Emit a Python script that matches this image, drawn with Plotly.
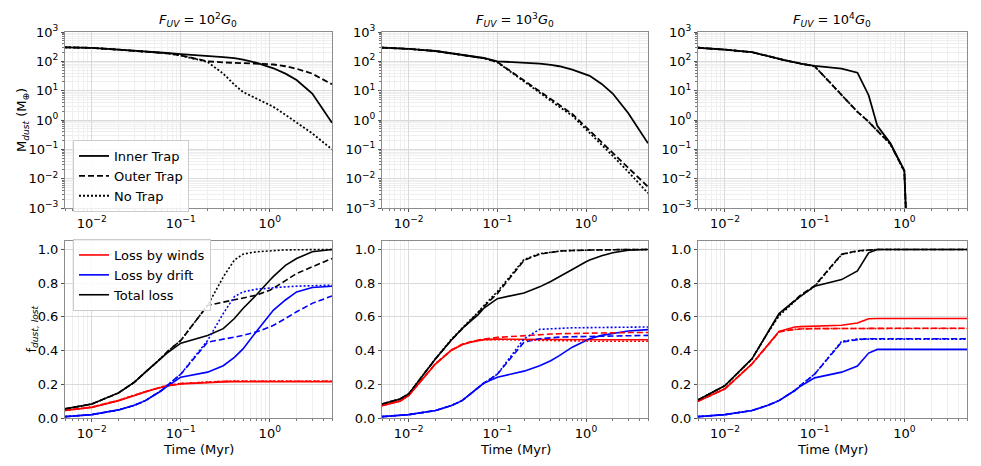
import numpy as np
import plotly.graph_objects as go

# time grid of the model outputs (Myr)
t_myr = [0.005, 0.008, 0.01, 0.02, 0.03, 0.04, 0.05, 0.06, 0.07, 0.1,
         0.2, 0.3, 0.4, 0.5, 0.7, 1.0, 1.1, 1.5, 2, 3, 5]

panel_titles = ["<i>F</i><sub><i>UV</i></sub> = 10<sup>2</sup><i>G</i><sub>0</sub>",
                "<i>F</i><sub><i>UV</i></sub> = 10<sup>3</sup><i>G</i><sub>0</sub>",
                "<i>F</i><sub><i>UV</i></sub> = 10<sup>4</sup><i>G</i><sub>0</sub>"]
trap_names = ["Inner Trap", "Outer Trap", "No Trap"]
loss_names = ["Loss by winds", "Loss by drift", "Total loss"]

x_tickvals = [0.01, 0.1, 1]
x_ticktext = ["10<sup>\u22122</sup>", "10<sup>\u22121</sup>", "10<sup>0</sup>"]
m_tickvals = [1e-3, 1e-2, 1e-1, 1, 10, 100, 1000]
m_ticktext = ["10<sup>\u22123</sup>", "10<sup>\u22122</sup>", "10<sup>\u22121</sup>",
              "10<sup>0</sup>", "10<sup>1</sup>", "10<sup>2</sup>", "10<sup>3</sup>"]
f_tickvals = [0.0, 0.2, 0.4, 0.6, 0.8, 1.0]

# ---- dust mass (M_earth) ----
mass_inner_g2 = [300, 292, 288, 250, 232, 220, 210, 200, 192, 175, 155, 140, 128, 115, 90, 65, 58, 38, 23, 8, 0.8]
mass_outer_g2 = [300, 292, 288, 250, 232, 220, 208, 198, 188, 160, 100, 92, 90, 88, 84, 80, 78, 68, 56, 38, 16.5]
mass_none_g2 = [300, 292, 288, 250, 232, 220, 208, 198, 188, 158, 95, 38, 16, 9, 5.5, 3.3, 2.8, 1.5, 0.8, 0.35, 0.1]

mass_inner_g3 = [295, 280, 265, 225, 190, 170, 155, 140, 130, 100, 90, 84, 76, 68, 52, 36, 32, 17, 8, 1.7, 0.16]
mass_outer_g3 = [295, 280, 265, 225, 190, 170, 155, 140, 128, 95, 22, 9.5, 5.2, 3.2, 1.6, 0.57, 0.43, 0.18, 0.077, 0.023, 0.0053]
mass_none_g3 = [295, 280, 265, 225, 190, 170, 155, 140, 128, 93, 20, 8.5, 4.6, 2.8, 1.4, 0.48, 0.36, 0.15, 0.06, 0.017, 0.0032]

mass_inner_g4 = [290, 265, 250, 205, 148, 117, 103, 93, 83, 70, 56, 41, 7, 0.63, 0.16, 0.019, 1e-5, None, None, None, None]
mass_outer_g4 = [290, 265, 250, 205, 148, 117, 103, 93, 83, 68, 7, 1.9, 0.87, 0.44, 0.15, 0.018, 1e-5, None, None, None, None]
mass_none_g4 = [290, 265, 250, 205, 148, 117, 103, 93, 83, 68, 7, 1.9, 0.87, 0.44, 0.15, 0.018, 1e-5, None, None, None, None]

# ---- fraction of dust lost, G0 = 1e2 ----
wind_inner_g2 = [0.044, 0.056, 0.063, 0.103, 0.135, 0.155, 0.17, 0.182, 0.19, 0.202, 0.212, 0.214, 0.215, 0.215, 0.215, 0.215, 0.215, 0.215, 0.215, 0.215, 0.215]
wind_outer_g2 = [0.045, 0.057, 0.064, 0.104, 0.136, 0.156, 0.171, 0.183, 0.192, 0.204, 0.215, 0.217, 0.218, 0.218, 0.218, 0.218, 0.218, 0.218, 0.218, 0.218, 0.218]
wind_none_g2 = [0.046, 0.058, 0.065, 0.105, 0.137, 0.157, 0.172, 0.184, 0.193, 0.205, 0.216, 0.218, 0.219, 0.219, 0.219, 0.219, 0.219, 0.219, 0.219, 0.219, 0.219]
drift_inner_g2 = [0.008, 0.014, 0.02, 0.048, 0.075, 0.103, 0.133, 0.16, 0.187, 0.242, 0.272, 0.31, 0.36, 0.41, 0.51, 0.61, 0.64, 0.70, 0.748, 0.774, 0.782]
drift_outer_g2 = [0.008, 0.014, 0.02, 0.048, 0.075, 0.103, 0.133, 0.162, 0.192, 0.26, 0.45, 0.47, 0.48, 0.49, 0.51, 0.54, 0.55, 0.59, 0.63, 0.68, 0.724]
drift_none_g2 = [0.008, 0.014, 0.02, 0.048, 0.075, 0.103, 0.133, 0.162, 0.192, 0.26, 0.46, 0.62, 0.72, 0.748, 0.764, 0.772, 0.774, 0.778, 0.782, 0.785, 0.788]
total_inner_g2 = [0.054, 0.072, 0.083, 0.149, 0.212, 0.272, 0.317, 0.352, 0.385, 0.444, 0.49, 0.53, 0.59, 0.65, 0.728, 0.817, 0.84, 0.905, 0.946, 0.986, 1.0]
total_outer_g2 = [0.054, 0.072, 0.083, 0.149, 0.212, 0.272, 0.317, 0.355, 0.392, 0.46, 0.668, 0.688, 0.70, 0.712, 0.728, 0.758, 0.77, 0.815, 0.857, 0.897, 0.946]
total_none_g2 = [0.054, 0.072, 0.083, 0.149, 0.212, 0.272, 0.317, 0.355, 0.392, 0.46, 0.668, 0.837, 0.937, 0.972, 0.986, 0.992, 0.994, 0.997, 0.998, 0.999, 1.0]

# ---- fraction of dust lost, G0 = 1e3 ----
wind_inner_g3 = [0.073, 0.10, 0.133, 0.32, 0.40, 0.435, 0.45, 0.46, 0.465, 0.468, 0.466, 0.465, 0.465, 0.465, 0.465, 0.464, 0.464, 0.464, 0.464, 0.464, 0.464]
wind_outer_g3 = [0.075, 0.102, 0.135, 0.322, 0.402, 0.437, 0.452, 0.463, 0.468, 0.478, 0.49, 0.495, 0.498, 0.50, 0.502, 0.505, 0.505, 0.506, 0.507, 0.507, 0.507]
wind_none_g3 = [0.074, 0.101, 0.134, 0.321, 0.401, 0.436, 0.451, 0.461, 0.464, 0.465, 0.462, 0.46, 0.459, 0.458, 0.457, 0.456, 0.456, 0.455, 0.455, 0.455, 0.455]
drift_inner_g3 = [0.008, 0.014, 0.02, 0.044, 0.073, 0.103, 0.143, 0.175, 0.206, 0.242, 0.278, 0.31, 0.34, 0.37, 0.42, 0.46, 0.47, 0.49, 0.50, 0.516, 0.524]
drift_outer_g3 = [0.008, 0.014, 0.02, 0.044, 0.073, 0.103, 0.143, 0.175, 0.206, 0.26, 0.45, 0.47, 0.476, 0.48, 0.482, 0.484, 0.485, 0.487, 0.488, 0.489, 0.49]
drift_none_g3 = [0.008, 0.014, 0.02, 0.044, 0.073, 0.103, 0.143, 0.175, 0.206, 0.26, 0.47, 0.526, 0.53, 0.534, 0.535, 0.536, 0.536, 0.537, 0.538, 0.539, 0.54]
total_inner_g3 = [0.083, 0.113, 0.143, 0.35, 0.46, 0.53, 0.575, 0.61, 0.65, 0.708, 0.742, 0.778, 0.81, 0.837, 0.881, 0.927, 0.937, 0.962, 0.98, 0.996, 1.0]
total_outer_g3 = [0.083, 0.113, 0.143, 0.35, 0.46, 0.53, 0.58, 0.62, 0.66, 0.738, 0.935, 0.972, 0.983, 0.99, 0.994, 0.996, 0.997, 0.998, 0.999, 1.0, 1.0]
total_none_g3 = [0.083, 0.113, 0.143, 0.352, 0.465, 0.535, 0.585, 0.625, 0.665, 0.75, 0.94, 0.975, 0.985, 0.99, 0.994, 0.996, 0.997, 0.998, 0.999, 1.0, 1.0]

# ---- fraction of dust lost, G0 = 1e4 ----
wind_inner_g4 = [0.099, 0.149, 0.173, 0.32, 0.43, 0.514, 0.528, 0.54, 0.542, 0.544, 0.55, 0.563, 0.589, 0.59, 0.59, 0.59, 0.59, 0.59, 0.59, 0.59, 0.59]
wind_outer_g4 = [0.099, 0.149, 0.173, 0.32, 0.43, 0.51, 0.52, 0.525, 0.528, 0.53, 0.532, 0.532, 0.532, 0.532, 0.532, 0.532, 0.532, 0.532, 0.532, 0.532, 0.532]
wind_none_g4 = [0.10, 0.15, 0.175, 0.322, 0.432, 0.512, 0.522, 0.527, 0.529, 0.531, 0.531, 0.531, 0.531, 0.531, 0.531, 0.531, 0.531, 0.531, 0.531, 0.531, 0.531]
drift_inner_g4 = [0.008, 0.015, 0.02, 0.044, 0.075, 0.103, 0.135, 0.163, 0.19, 0.238, 0.272, 0.308, 0.385, 0.407, 0.407, 0.407, 0.407, 0.407, 0.407, 0.407, 0.407]
drift_outer_g4 = [0.008, 0.015, 0.02, 0.044, 0.075, 0.103, 0.135, 0.163, 0.195, 0.26, 0.45, 0.465, 0.47, 0.47, 0.47, 0.47, 0.47, 0.47, 0.47, 0.47, 0.47]
drift_none_g4 = [0.008, 0.015, 0.02, 0.044, 0.075, 0.103, 0.135, 0.163, 0.195, 0.26, 0.455, 0.468, 0.468, 0.468, 0.468, 0.468, 0.468, 0.468, 0.468, 0.468, 0.468]
total_inner_g4 = [0.107, 0.165, 0.192, 0.351, 0.51, 0.619, 0.662, 0.698, 0.723, 0.782, 0.821, 0.873, 0.98, 1.0, 1.0, 1.0, 1.0, 1.0, 1.0, 1.0, 1.0]
total_outer_g4 = [0.107, 0.165, 0.192, 0.351, 0.51, 0.615, 0.66, 0.70, 0.73, 0.785, 0.972, 0.992, 0.998, 1.0, 1.0, 1.0, 1.0, 1.0, 1.0, 1.0, 1.0]
total_none_g4 = [0.107, 0.165, 0.192, 0.35, 0.505, 0.605, 0.655, 0.695, 0.725, 0.78, 0.97, 0.99, 0.998, 1.0, 1.0, 1.0, 1.0, 1.0, 1.0, 1.0, 1.0]

mass_panels = [
    [mass_inner_g2, mass_outer_g2, mass_none_g2],
    [mass_inner_g3, mass_outer_g3, mass_none_g3],
    [mass_inner_g4, mass_outer_g4, mass_none_g4],
]
loss_panels = [
    [[wind_inner_g2, wind_outer_g2, wind_none_g2],
     [drift_inner_g2, drift_outer_g2, drift_none_g2],
     [total_inner_g2, total_outer_g2, total_none_g2]],
    [[wind_inner_g3, wind_outer_g3, wind_none_g3],
     [drift_inner_g3, drift_outer_g3, drift_none_g3],
     [total_inner_g3, total_outer_g3, total_none_g3]],
    [[wind_inner_g4, wind_outer_g4, wind_none_g4],
     [drift_inner_g4, drift_outer_g4, drift_none_g4],
     [total_inner_g4, total_outer_g4, total_none_g4]],
]

W, H = 981, 466
FONT = "DejaVu Sans"
dashes = ["solid", "6px,3px", "2px,2px"]
loss_colors = ["#ff0000", "#0000ff", "#000000"]

# plot areas in pixels (left, right) and (top, bottom)
cols_px = [(65, 332), (382, 648), (698, 967)]
rows_px = [(32, 208), (241, 418)]


def xdom(c):
    return [cols_px[c][0] / W, cols_px[c][1] / W]


def ydom(r):
    return [1 - rows_px[r][1] / H, 1 - rows_px[r][0] / H]


# minor grid positions for log axes
minor_x = [m * 10.0 ** k for k in range(-3, 1) for m in range(2, 10)]
minor_y = [m * 10.0 ** k for k in range(-3, 3) for m in range(2, 10)]

fig = go.Figure()

for c in range(3):
    # top row: dust mass
    xa, ya = f"x{c + 1}", f"y{c + 1}"
    for k in range(3):
        fig.add_trace(go.Scatter(
            x=t_myr, y=mass_panels[c][k], mode="lines",
            line=dict(color="black", width=1.8, dash=dashes[k]),
            name=trap_names[k], showlegend=(c == 0), legend="legend",
            xaxis=xa, yaxis=ya, hoverinfo="skip"))
    # bottom row: fractions lost
    xa, ya = f"x{c + 4}", f"y{c + 4}"
    for k in range(3):
        for q in range(3):
            fig.add_trace(go.Scatter(
                x=t_myr, y=loss_panels[c][q][k], mode="lines",
                line=dict(color=loss_colors[q], width=1.6, dash=dashes[k]),
                name=loss_names[q], showlegend=(c == 0 and k == 0), legend="legend2",
                xaxis=xa, yaxis=ya, hoverinfo="skip"))

axis_common = dict(
    automargin=False,
    showline=True, linecolor="#8c8c8c", linewidth=1, mirror=True,
    ticks="outside", ticklen=3, tickcolor="#555555",
    showgrid=True, gridcolor="#dadada", gridwidth=0.8,
    tickfont=dict(family=FONT, size=13, color="black"),
    zeroline=False,
)

layout = dict(
    template="none",
    width=W, height=H,
    margin=dict(l=0, r=0, t=0, b=0, pad=0, autoexpand=False),
    paper_bgcolor="white", plot_bgcolor="white",
    font=dict(family=FONT, size=12, color="black"),
)

for c in range(3):
    for r in range(2):
        i = c + 1 + 3 * r
        xkey = "xaxis" if i == 1 else f"xaxis{i}"
        ykey = "yaxis" if i == 1 else f"yaxis{i}"
        layout[xkey] = dict(
            axis_common, type="log", domain=xdom(c), anchor=f"y{i}",
            range=[np.log10(0.005), np.log10(5)],
            tickmode="array", tickvals=x_tickvals, ticktext=x_ticktext,
            minor=dict(tickmode="array", tickvals=minor_x, ticks="outside", ticklen=2,
                       tickcolor="#777777", showgrid=True, gridcolor="#efefef", gridwidth=0.6),
        )
        if r == 0:
            layout[ykey] = dict(
                axis_common, type="log", domain=ydom(r), anchor=f"x{i}",
                range=[-3, 3], tickmode="array", tickvals=m_tickvals, ticktext=m_ticktext,
                minor=dict(tickmode="array", tickvals=minor_y, ticks="outside", ticklen=2,
                           tickcolor="#777777", showgrid=True, gridcolor="#efefef", gridwidth=0.6),
            )
        else:
            layout[ykey] = dict(
                axis_common, domain=ydom(r), anchor=f"x{i}",
                range=[0, 1.05], tickmode="array", tickvals=f_tickvals, tickformat=".1f",
            )

layout["legend"] = dict(
    x=73 / W, y=1 - 140 / H, xanchor="left", yanchor="top",
    bgcolor="rgba(255,255,255,0.85)", bordercolor="#cccccc", borderwidth=1,
    font=dict(family=FONT, size=13), tracegroupgap=0, itemwidth=30,
)
layout["legend2"] = dict(
    x=73 / W, y=1 - 239 / H, xanchor="left", yanchor="top",
    bgcolor="rgba(255,255,255,0.85)", bordercolor="#cccccc", borderwidth=1,
    font=dict(family=FONT, size=13), tracegroupgap=0, itemwidth=30,
)

annotations = []
for c in range(3):
    annotations.append(dict(
        text=panel_titles[c], x=sum(xdom(c)) / 2, y=ydom(0)[1], xref="paper", yref="paper",
        xanchor="center", yanchor="bottom", yshift=1, showarrow=False,
        font=dict(family=FONT, size=13)))
    annotations.append(dict(
        text="Time (Myr)", x=sum(xdom(c)) / 2, y=1 - 449 / H, xref="paper", yref="paper",
        xanchor="center", yanchor="middle", showarrow=False,
        font=dict(family=FONT, size=13)))
annotations.append(dict(
    text="M<sub><i>dust</i></sub> (M<sub>\u2295</sub>)", x=22 / W, y=sum(ydom(0)) / 2,
    xref="paper", yref="paper", xanchor="center", yanchor="middle", textangle=-90,
    showarrow=False, font=dict(family=FONT, size=13)))
annotations.append(dict(
    text="f<sub><i>dust, lost</i></sub>", x=32 / W, y=sum(ydom(1)) / 2,
    xref="paper", yref="paper", xanchor="center", yanchor="middle", textangle=-90,
    showarrow=False, font=dict(family=FONT, size=13)))
layout["annotations"] = annotations

fig.update_layout(layout)
# drop the default page margin so the figure sits at the window's corner
fig.write_html("out.html", config={"displayModeBar": False},
               post_script="document.body.style.margin = '0';")
